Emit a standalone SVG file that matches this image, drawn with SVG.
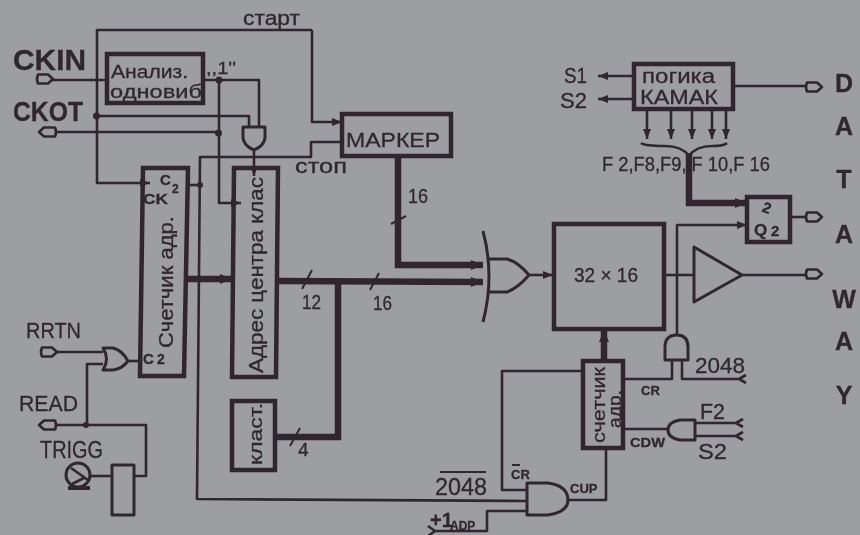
<svg xmlns="http://www.w3.org/2000/svg" width="860" height="535" viewBox="0 0 860 535">
<style>
.w{fill:none;stroke:#31282e;stroke-width:2.6;stroke-linejoin:round}
.t{fill:none;stroke:#31282e;stroke-width:2}
.b{fill:none;stroke:#31282e;stroke-width:6.500;stroke-linejoin:miter}
.box{fill:none;stroke:#31282e;stroke-width:4.500}
.gate{fill:none;stroke:#31282e;stroke-width:3;stroke-linejoin:round}
.term{fill:none;stroke:#31282e;stroke-width:2.600;stroke-linejoin:round}
text{font-family:"Liberation Sans","DejaVu Sans",sans-serif;fill:#31282e;stroke:#31282e;stroke-width:.3}
.d{font-weight:700;font-size:25px;text-anchor:middle}
.sm{font-weight:700;font-size:13px}
</style>
<defs>
<marker id="a" markerUnits="userSpaceOnUse" markerWidth="12" markerHeight="10" refX="10" refY="5" orient="auto"><path d="M0 1L10 5L0 9Z" fill="#31282e"/></marker>
<marker id="ab" markerUnits="userSpaceOnUse" markerWidth="14" markerHeight="12" refX="12" refY="6" orient="auto"><path d="M0 1L12 6L0 11Z" fill="#31282e"/></marker>
<path id="pr" d="M0-4.500H10L15 0L10 4.500H0Q-2 0 0-4.500Z" class="term"/>
<path id="pl" d="M0-4.500H-11L-16 0L-11 4.500H0Q2 0 0-4.500Z" class="term"/>
<filter id="soft" x="0" y="0" width="1" height="1"><feGaussianBlur stdDeviation="0.5"/></filter>
</defs>
<rect width="860" height="535" fill="#9c9ea1"/>
<g filter="url(#soft)">
<g id="connectors">
<path class="w" d="M107 80H52"/>
<path class="w" d="M312 30H97V183H150" marker-end="url(#a)"/>
<path class="w" d="M312 30V122H342" marker-end="url(#a)"/>
<path class="w" d="M96 116H249V127"/>
<path class="w" d="M55 132H219"/>
<path class="w" d="M203 80H259V127"/>
<path class="w" d="M219 80V203H241" marker-end="url(#a)"/>
<path class="w" d="M254 150V176" marker-end="url(#a)"/>
<path class="w" d="M342 142H311V157H200L197 499L527 501"/>
<path class="w" d="M189 185H200"/>
<path class="b" d="M187 279H232" marker-end="url(#ab)"/>
<path class="b" d="M277 281L483 282" marker-end="url(#ab)"/>
<path class="b" d="M338 282V437H275"/>
<path class="b" d="M398 156V265H483" marker-end="url(#ab)"/>
<path class="w" d="M529 275H553" marker-end="url(#a)"/>
<path class="w" d="M664 275H694"/>
<path class="w" d="M742 275H806"/>
<path class="w" d="M677 335V225H747" marker-end="url(#a)"/>
<path class="w" d="M733 86H807"/>
<path class="w" d="M634 76H598" marker-end="url(#a)"/>
<path class="w" d="M634 99H598" marker-end="url(#a)"/>
<path class="w" d="M647 109V139" marker-end="url(#a)"/>
<path class="w" d="M671 109V139" marker-end="url(#a)"/>
<path class="w" d="M692 109V139" marker-end="url(#a)"/>
<path class="w" d="M712 109V139" marker-end="url(#a)"/>
<path class="w" d="M726 109V139" marker-end="url(#a)"/>
<path class="w" d="M641 143Q645 146 665 146Q682 146 689 156Q696 146 712 146Q724 146 727 143"/>
<path class="b" d="M689 153V203H747" marker-end="url(#ab)"/>
<path class="w" d="M790 217H806"/>
<path class="b" d="M604 361V330" marker-end="url(#ab)"/>
<path class="w" d="M583 371H502V490H527"/>
<path class="w" d="M568 500H606V448"/>
<path class="w" d="M527 511H487V531H434M428 526L435 531L428 536"/>
<path class="w" d="M625 379H672V360"/>
<path class="w" d="M682 360V379H739M746 375L739 379L746 383"/>
<path class="w" d="M623 429H668"/>
<path class="w" d="M695 423H736M743 419L736 423L743 427"/>
<path class="w" d="M695 436H736M743 432L736 436L743 440"/>
<path class="w" d="M55 352H103"/>
<path class="w" d="M128 361H140"/>
<path class="w" d="M103 364H87V425"/>
<path class="w" d="M55 425H146V476H134"/>
<path class="w" d="M90 476H112"/>
<circle cx="96.500" cy="116" r="3.500" fill="#31282e"/>
<circle cx="219" cy="80" r="3.500" fill="#31282e"/>
<circle cx="218.500" cy="133" r="3.500" fill="#31282e"/>
<circle cx="200" cy="185" r="3" fill="#31282e"/>
<circle cx="86" cy="425" r="3" fill="#31282e"/>
<path class="t" d="M302 289L312 270M370 290L379 273M391 224L406 216M290 446L300 428"/>
</g>
<g id="ckin"><use href="#pr" x="38" y="79"/><text font-weight="700" font-size="30" x="13" y="70" textLength="73" lengthAdjust="spacingAndGlyphs">CKIN</text></g>
<g id="ckot"><use href="#pl" x="55" y="132"/><text font-weight="700" font-size="28" x="13" y="121" textLength="70" lengthAdjust="spacingAndGlyphs">CKOT</text></g>
<g id="start-label"><text x="243" y="25" font-size="20" textLength="57" lengthAdjust="spacingAndGlyphs">старт</text></g>
<g id="analyzer"><rect class="box" x="107" y="54" width="96" height="49"/><text x="111" y="78" font-size="19" textLength="77" lengthAdjust="spacingAndGlyphs">Анализ.</text><text x="110" y="98" font-size="19" textLength="92" lengthAdjust="spacingAndGlyphs">одновиб</text><text x="206" y="74" font-size="16" textLength="30" lengthAdjust="spacingAndGlyphs">,,1''</text></g>
<g id="gate-top"><path class="gate" d="M243 127H265V138Q264 146 254 150Q244 146 243 138Z"/></g>
<g id="marker-node"><rect class="box" x="342" y="114" width="109" height="42"/><text x="346" y="147" font-size="21" textLength="94" lengthAdjust="spacingAndGlyphs">МАРКЕР</text><text x="295" y="173" font-size="20" textLength="52" lengthAdjust="spacingAndGlyphs">стоп</text></g>
<g id="counter-main"><path class="box" d="M143 168H188L184 376H140Z"/><text transform="translate(173 348) rotate(-90)" font-size="21" textLength="132" lengthAdjust="spacingAndGlyphs">Счетчик адр.</text><text x="160" y="185" font-size="15" font-weight="700">C</text><text x="172" y="193" font-size="12" font-weight="700">2</text><text x="143" y="204" font-size="14" font-weight="700" textLength="25" lengthAdjust="spacingAndGlyphs">CK</text><text x="143" y="364" font-size="15" font-weight="700">C</text><text x="157" y="364" font-size="14" font-weight="700">2</text></g>
<g id="address-center"><path class="box" d="M234 168H278L276 377H232Z"/><text transform="translate(263 373) rotate(-90)" font-size="21" textLength="196" lengthAdjust="spacingAndGlyphs">Адрес центра клас</text></g>
<g id="cluster"><rect class="box" x="232" y="401" width="43" height="69"/><text transform="translate(262 465) rotate(-90)" font-size="18" textLength="62" lengthAdjust="spacingAndGlyphs">класт.</text></g>
<g id="bus-labels"><text x="408" y="203" font-size="20" textLength="20" lengthAdjust="spacingAndGlyphs">16</text><text x="302" y="309" font-size="20" textLength="19" lengthAdjust="spacingAndGlyphs">12</text><text x="373" y="310" font-size="20" textLength="19" lengthAdjust="spacingAndGlyphs">16</text><text x="298" y="456" font-size="19">4</text></g>
<g id="or-main"><path class="gate" d="M483 231Q495 276 483 322"/><path class="gate" d="M487 259H507Q518 262 529 275Q518 288 507 292H487"/></g>
<g id="memory"><rect class="box" x="554" y="224" width="110" height="105"/><text x="574" y="282" font-size="21" textLength="64" lengthAdjust="spacingAndGlyphs">32 × 16</text></g>
<g id="amp"><path class="gate" d="M694 247L742 275L694 302Z"/><use href="#pr" x="807" y="274"/></g>
<g id="logic"><rect class="box" x="634" y="64" width="99" height="45"/><text x="642" y="83" font-size="20" textLength="73" lengthAdjust="spacingAndGlyphs">погика</text><text x="640" y="104" font-size="21" textLength="78" lengthAdjust="spacingAndGlyphs">КАМАК</text><text x="564" y="83" font-size="22" textLength="23" lengthAdjust="spacingAndGlyphs">S1</text><text x="560" y="108" font-size="22" textLength="27" lengthAdjust="spacingAndGlyphs">S2</text><use href="#pr" x="807" y="87"/><text x="602" y="171" font-size="20" textLength="168" lengthAdjust="spacingAndGlyphs">F 2,F8,F9, F 10,F 16</text></g>
<g id="flipflop"><rect class="box" x="747" y="197" width="43" height="45"/><text x="763" y="213" font-size="15" font-weight="700" transform="rotate(20 767 207)">2</text><text x="754" y="236" font-size="17" font-weight="700">Q</text><text x="771" y="236" font-size="15" font-weight="700">2</text><use href="#pr" x="807" y="217"/></g>
<g id="counter-small"><rect class="box" x="583" y="361" width="40" height="87"/><text transform="translate(605 443) rotate(-90)" font-size="19" textLength="76" lengthAdjust="spacingAndGlyphs">счетчик</text><text transform="translate(621 428) rotate(-90)" font-size="18" textLength="38" lengthAdjust="spacingAndGlyphs">адр.</text></g>
<g id="and-clear"><path class="gate" d="M665 360V347Q665 335 677 335Q688 335 688 347V360Z"/><text x="695" y="373" font-size="22" textLength="50" lengthAdjust="spacingAndGlyphs">2048</text><text class="sm" x="641" y="395">CR</text></g>
<g id="and-cdw"><path class="gate" d="M695 420V440H680Q668 438 668 430Q668 422 680 420Z"/><text x="700" y="419" font-size="22" textLength="25" lengthAdjust="spacingAndGlyphs">F2</text><text x="698" y="459" font-size="22" textLength="29" lengthAdjust="spacingAndGlyphs">S2</text><text class="sm" x="630" y="447" textLength="35" lengthAdjust="spacingAndGlyphs">CDW</text></g>
<g id="and-cup"><path class="gate" d="M527 483H548Q568 486 568 500Q568 512 548 515H527Z"/><text x="435" y="495" font-size="23" textLength="52" lengthAdjust="spacingAndGlyphs">2048</text><path class="t" d="M440 472H486"/><text class="sm" x="511" y="479">CR</text><path class="t" d="M512 465H520"/><text class="sm" x="570" y="493">CUP</text><text x="430" y="527" font-size="20" font-weight="700">+1</text><text x="450" y="530" font-size="12" font-weight="700">ADP</text></g>
<g id="rrtn"><use href="#pr" x="42" y="352"/><text x="26" y="338" font-size="22" textLength="55" lengthAdjust="spacingAndGlyphs">RRTN</text><path class="gate" d="M103 348H113Q122 350 128 361Q122 369 113 370H103Q110 359 103 348Z"/></g>
<g id="read"><use href="#pl" x="55" y="425"/><text x="19" y="411" font-size="22" textLength="59" lengthAdjust="spacingAndGlyphs">READ</text></g>
<g id="trigg"><text x="40" y="458" font-size="23" textLength="63" lengthAdjust="spacingAndGlyphs">TRIGG</text><circle class="gate" cx="78" cy="475" r="12"/><path class="w" d="M71 468L88 480M72 484L84 478"/><path d="M68 486H90V490H68Z" fill="#31282e"/><rect class="gate" x="112" y="465" width="22" height="50"/></g>
<g id="dataway"><text class="d" x="844" y="92">D</text><text class="d" x="844" y="135">A</text><text class="d" x="844" y="188">T</text><text class="d" x="844" y="243">A</text><text class="d" x="844" y="308">W</text><text class="d" x="844" y="350">A</text><text class="d" x="844" y="404">Y</text></g>
</g>
</svg>
